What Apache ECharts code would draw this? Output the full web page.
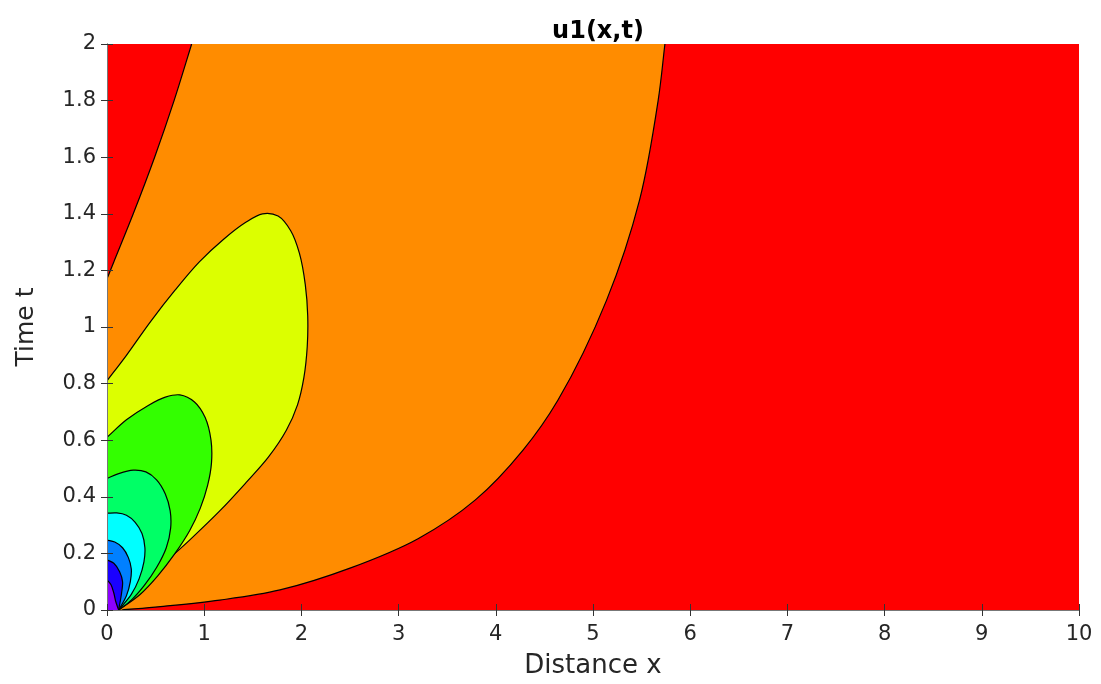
<!DOCTYPE html>
<html>
<head>
<meta charset="utf-8">
<script src="https://cdn.jsdelivr.net/npm/echarts@6/dist/echarts.min.js"></script>
<style>
html,body{margin:0;padding:0;background:#fff;}
#chart{width:1101px;height:684px;}
</style>
</head>
<body>
<div id="chart"></div>
<script>
// ---- data (x = distance, t = time) ----
const xRange = [0, 10];
const tRange = [0, 2];
const xTickLabels = ['0','1','2','3','4','5','6','7','8','9','10'];
const tTickLabels = ['0','0.2','0.4','0.6','0.8','1','1.2','1.4','1.6','1.8','2'];

// red/orange boundary in the top-left corner (left axis -> top edge)
const redOrangeLeft = [[0,1.17],[0.07,1.23],[0.27,1.4],[0.49,1.6],[0.69,1.8],[0.871,2.0]];
// orange/red boundary on the right (top edge -> origin)
const redOrangeRight = [[5.74,2.0],[5.67,1.8],[5.48,1.45],[5.14,1.095],[4.64,0.742],[4.28,0.565],[3.79,0.389],[3.2,0.252],[2.5,0.148],[1.78,0.071],[1.16,0.035],[0.55,0.012],[0.15,0]];
// closed lobes (left axis -> origin)
const yellowLobe = [[0,0.81],[0.2,0.9],[0.45,1.02],[0.7,1.13],[0.95,1.23],[1.2,1.31],[1.42,1.368],[1.6,1.4],[1.76,1.392],[1.89,1.34],[1.98,1.26],[2.04,1.15],[2.065,1.04],[2.06,0.93],[2.025,0.82],[1.96,0.725],[1.845,0.635],[1.66,0.54],[1.43,0.45],[1.16,0.35],[0.85,0.247],[0.54,0.15],[0.29,0.065],[0.12,0]];
const greenLobe = [[0,0.61],[0.2,0.672],[0.42,0.722],[0.6,0.752],[0.75,0.76],[0.9,0.735],[1.01,0.68],[1.07,0.6],[1.075,0.52],[1.035,0.44],[0.96,0.36],[0.85,0.28],[0.7,0.2],[0.52,0.12],[0.34,0.055],[0.12,0]];
const springLobe = [[0,0.465],[0.12,0.482],[0.27,0.494],[0.4,0.488],[0.51,0.46],[0.6,0.41],[0.65,0.35],[0.655,0.29],[0.61,0.22],[0.51,0.15],[0.38,0.085],[0.25,0.035],[0.12,0]];
const cyanLobe = [[0,0.342],[0.1,0.343],[0.2,0.335],[0.29,0.31],[0.36,0.27],[0.39,0.22],[0.38,0.17],[0.33,0.11],[0.25,0.055],[0.12,0]];
const blueLobe = [[0,0.247],[0.08,0.24],[0.16,0.22],[0.22,0.185],[0.25,0.145],[0.24,0.1],[0.2,0.05],[0.12,0]];
const darkBlueLobe = [[0,0.177],[0.07,0.165],[0.13,0.135],[0.16,0.1],[0.15,0.06],[0.12,0]];
const purpleLobe = [[0,0.106],[0.04,0.09],[0.07,0.06],[0.09,0.03],[0.12,0]];

const colors = {
  red: '#FF0000', orange: '#FF8C00', yellow: '#DCFF00', green: '#33FF00',
  spring: '#00FF66', cyan: '#00FFFF', blue: '#0080FF', darkBlue: '#1A00FF', purple: '#8C00FF'
};

// ---- rendering helpers (centripetal Catmull-Rom through the read points) ----
function toPx(api, pts) { return pts.map(p => api.coord(p)); }
function dist(a, b) { return Math.hypot(a[0] - b[0], a[1] - b[1]); }
function smoothSeg(px, start) {
  let d = (start ? 'M' : 'L') + px[0][0] + ',' + px[0][1];
  const n = px.length;
  for (let i = 0; i < n - 1; i++) {
    const p1 = px[i], p2 = px[i + 1];
    const p0 = i > 0 ? px[i - 1] : [2 * p1[0] - p2[0], 2 * p1[1] - p2[1]];
    const p3 = i + 2 < n ? px[i + 2] : [2 * p2[0] - p1[0], 2 * p2[1] - p1[1]];
    const d1 = Math.sqrt(dist(p0, p1)) || 1e-6, d2 = Math.sqrt(dist(p1, p2)) || 1e-6, d3 = Math.sqrt(dist(p2, p3)) || 1e-6;
    const d1a = d1 * d1, d2a = d2 * d2, d3a = d3 * d3;
    const c1 = [0, 1].map(k => (d1a * p2[k] - d2a * p0[k] + (2 * d1a + 3 * d1 * d2 + d2a) * p1[k]) / (3 * d1 * (d1 + d2)));
    const c2 = [0, 1].map(k => (d3a * p1[k] - d2a * p3[k] + (2 * d3a + 3 * d3 * d2 + d2a) * p2[k]) / (3 * d3 * (d3 + d2)));
    d += ` C${c1[0]},${c1[1]} ${c2[0]},${c2[1]} ${p2[0]},${p2[1]}`;
  }
  return d;
}
const lineStyle = { fill: null, stroke: '#000', lineWidth: 1.2 };

function lobeSeries(name, pts, color) {
  return {
    type: 'custom', name, coordinateSystem: 'cartesian2d', clip: true, z: 2,
    data: [0], silent: true,
    renderItem: function (params, api) {
      const px = toPx(api, pts);
      const o = api.coord([0, 0]);
      const curve = smoothSeg(px, true);
      return { type: 'group', children: [
        { type: 'path', shape: { pathData: curve + ` L${o[0]},${o[1]} Z` }, style: { fill: color } },
        { type: 'path', shape: { pathData: curve }, style: lineStyle }
      ]};
    }
  };
}

const series = [
  { // red background region
    type: 'custom', name: 'red', coordinateSystem: 'cartesian2d', clip: true, z: 1, data: [0], silent: true,
    renderItem: function (params, api) {
      const a = api.coord([xRange[0], tRange[1]]), b = api.coord([xRange[1], tRange[0]]);
      return { type: 'rect', shape: { x: a[0], y: a[1], width: b[0] - a[0], height: b[1] - a[1] }, style: { fill: colors.red } };
    }
  },
  { // orange band
    type: 'custom', name: 'orange', coordinateSystem: 'cartesian2d', clip: true, z: 2, data: [0], silent: true,
    renderItem: function (params, api) {
      const l = toPx(api, redOrangeLeft), r = toPx(api, redOrangeRight);
      const o = api.coord([0, 0]);
      const c1 = smoothSeg(l, true), c2 = smoothSeg(r, true);
      return { type: 'group', children: [
        { type: 'path', shape: { pathData: c1 + ' ' + smoothSeg(r, false) + ` L${o[0]},${o[1]} Z` }, style: { fill: colors.orange } },
        { type: 'path', shape: { pathData: c1 }, style: lineStyle },
        { type: 'path', shape: { pathData: c2 }, style: lineStyle }
      ]};
    }
  },
  lobeSeries('yellow', yellowLobe, colors.yellow),
  lobeSeries('green', greenLobe, colors.green),
  lobeSeries('spring', springLobe, colors.spring),
  lobeSeries('cyan', cyanLobe, colors.cyan),
  lobeSeries('blue', blueLobe, colors.blue),
  lobeSeries('darkBlue', darkBlueLobe, colors.darkBlue),
  lobeSeries('purple', purpleLobe, colors.purple)
];

const font = '"DejaVu Sans", sans-serif';
const txt = '#262626';
const chart = echarts.init(document.getElementById('chart'), null, { renderer: 'canvas' });
chart.setOption({
  animation: false,
  backgroundColor: '#fff',
  title: { text: 'u1(x,t)', left: 593, textAlign: 'center', top: 15,
    textStyle: { fontFamily: font, fontSize: 24, fontWeight: 'bold', color: '#000' } },
  grid: { left: 107, right: 22, top: 44, bottom: 74, containLabel: false },
  xAxis: [
    { type: 'value', min: xRange[0], max: xRange[1], interval: 1, position: 'bottom', z: 5,
      name: 'Distance x', nameLocation: 'middle', nameGap: 43,
      nameTextStyle: { fontFamily: font, fontSize: 26, color: txt },
      axisLine: { show: true, lineStyle: { color: '#777', width: 1 } },
      axisTick: { show: true, inside: true, length: 6, lineStyle: { color: '#333' } },
      axisLabel: { fontFamily: font, fontSize: 21, color: txt, margin: 14,
        formatter: (v) => xTickLabels[Math.round(v)] },
      splitLine: { show: false } },
    { type: 'value', min: xRange[0], max: xRange[1], interval: 1, position: 'top', z: 5,
      axisLine: { show: true, lineStyle: { color: '#777', width: 1 } },
      axisTick: { show: true, inside: true, length: 6, lineStyle: { color: '#333' } },
      axisLabel: { show: false }, splitLine: { show: false } }
  ],
  yAxis: [
    { type: 'value', min: tRange[0], max: tRange[1], interval: 0.2, position: 'left', z: 5,
      name: 'Time t', nameLocation: 'middle', nameGap: 68, nameRotate: 90,
      nameTextStyle: { fontFamily: font, fontSize: 25, color: txt },
      axisLine: { show: true, lineStyle: { color: '#777', width: 1 } },
      axisTick: { show: true, inside: true, length: 6, lineStyle: { color: '#333' } },
      axisLabel: { fontFamily: font, fontSize: 21, color: txt, margin: 11,
        formatter: (v) => tTickLabels[Math.round(v * 5)] },
      splitLine: { show: false } },
    { type: 'value', min: tRange[0], max: tRange[1], interval: 0.2, position: 'right', z: 5,
      axisLine: { show: true, lineStyle: { color: '#777', width: 1 } },
      axisTick: { show: true, inside: true, length: 6, lineStyle: { color: '#333' } },
      axisLabel: { show: false }, splitLine: { show: false } }
  ],
  series: series
});
</script>
</body>
</html>
